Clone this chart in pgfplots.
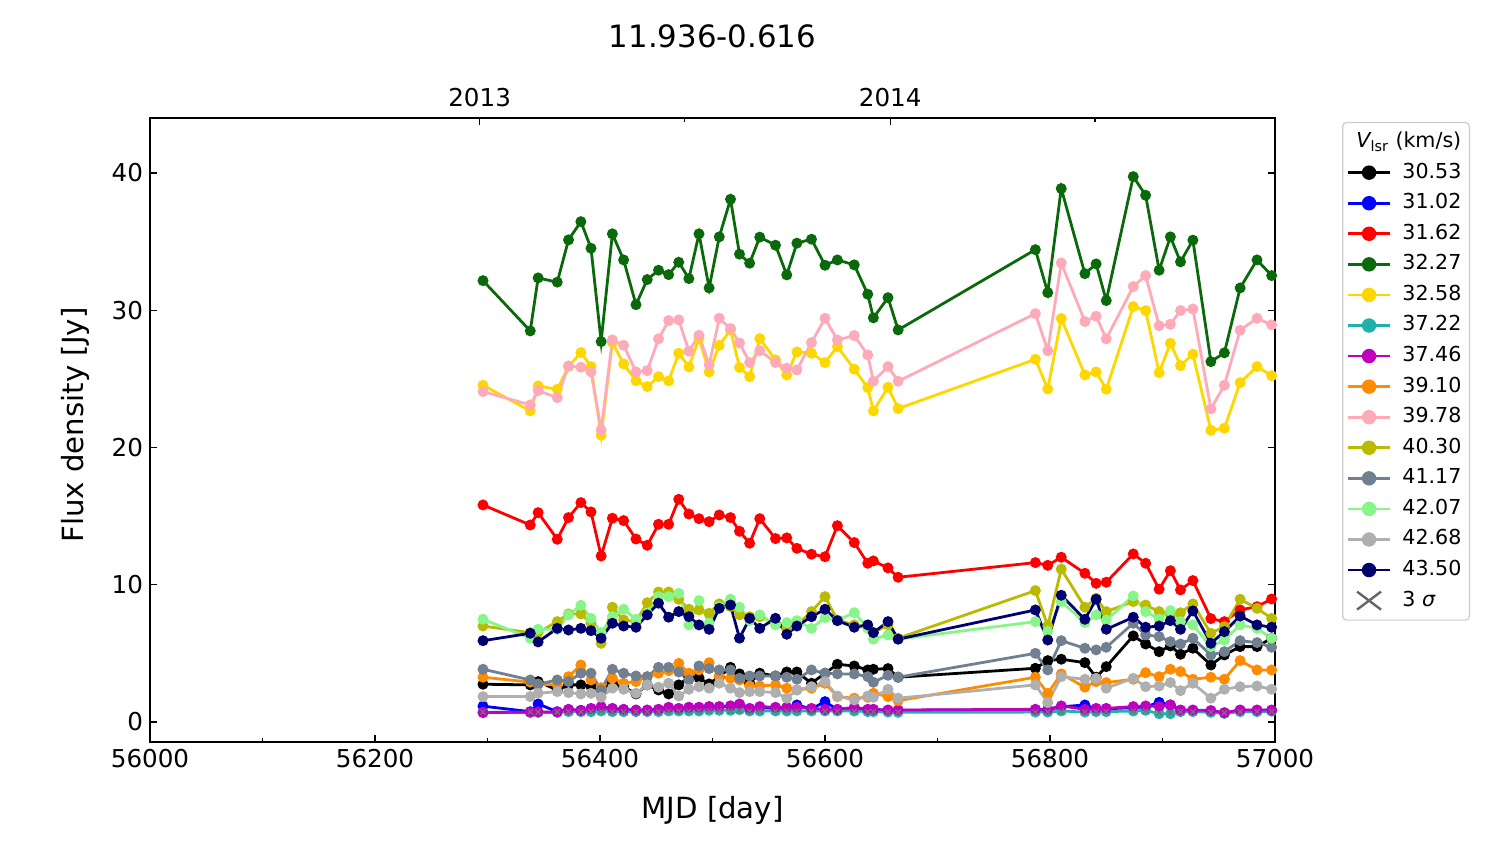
\documentclass[border=0pt]{standalone}
\usepackage{fontspec}
\setmainfont{DejaVu Sans}
\usepackage{pgfplots}
\pgfplotsset{compat=1.18}
\usepackage{pgfplotstable}

\definecolor{cA}{RGB}{0,0,0}
\definecolor{cB}{RGB}{0,0,255}
\definecolor{cC}{RGB}{255,0,0}
\definecolor{cD}{RGB}{10,105,10}
\definecolor{cE}{RGB}{255,215,0}
\definecolor{cF}{RGB}{32,178,170}
\definecolor{cG}{RGB}{191,0,191}
\definecolor{cH}{RGB}{255,140,0}
\definecolor{cI}{RGB}{255,170,185}
\definecolor{cJ}{RGB}{186,186,0}
\definecolor{cK}{RGB}{112,128,144}
\definecolor{cL}{RGB}{136,245,136}
\definecolor{cM}{RGB}{175,175,175}
\definecolor{cN}{RGB}{0,0,110}
\definecolor{legframe}{RGB}{204,204,204}

% MJD and flux density (Jy) of each maser feature
\pgfplotstableread{
mjd   a     b     c     d     e     f     g     h     i     j     k     l     m     n     s
56296 2.75  1.15  15.81 32.15 24.53 0.70  0.68  3.26  24.07 6.99  3.84  7.48  1.85  5.92  0.72
56338 2.70  0.75  14.35 28.49 22.66 0.70  0.72  2.90  23.10 6.50  3.06  6.10  1.85  6.46  0.72
56345 2.94  1.31  15.25 32.35 24.48 0.70  0.73  2.75  24.14 6.51  2.75  6.75  2.09  5.83  0.72
56362 2.33  0.75  13.31 32.04 24.24 0.70  0.73  2.70  23.63 7.31  3.06  6.75  2.21  6.82  0.72
56372 2.70  0.90  14.89 35.12 25.89 0.75  0.92  3.30  25.94 7.87  2.94  7.80  2.14  6.70  0.74
56383 2.70  0.85  15.98 36.45 26.91 0.75  0.83  4.15  25.84 7.87  3.55  8.50  2.04  6.82  0.74
56392 2.57  0.95  15.30 34.51 25.89 0.75  0.99  3.06  25.50 7.19  3.55  7.55  2.09  6.65  0.74
56401 2.33  1.05  12.09 27.71 20.89 0.80  1.12  2.50  21.27 5.73  2.33  6.51  1.80  6.10  0.78
56411 2.82  0.95  14.84 35.56 27.64 0.75  0.99  3.18  27.83 8.36  3.84  7.67  2.46  7.19  0.74
56421 2.57  0.90  14.67 33.66 26.08 0.75  0.92  2.82  27.44 7.43  3.55  8.21  2.38  6.99  0.74
56432 2.04  0.85  13.33 30.40 24.87 0.75  0.87  2.94  25.50 7.31  3.35  7.48  2.09  6.90  0.74
56442 2.70  0.85  12.87 32.23 24.43 0.75  0.87  3.30  25.60 8.69  3.30  7.92  2.70  7.80  0.74
56452 2.33  0.90  14.40 32.91 25.16 0.75  0.92  3.55  27.91 9.47  3.98  9.13  2.53  8.65  0.74
56461 2.04  1.00  14.40 32.59 24.85 0.80  1.07  3.74  29.24 9.47  3.98  9.13  2.82  7.63  0.78
56470 2.70  0.95  16.22 33.49 26.86 0.80  0.99  4.27  29.29 8.94  3.64  9.37  1.89  8.04  0.78
56479 3.26  1.05  15.15 32.30 25.87 0.80  1.07  3.55  27.01 8.21  3.06  7.07  2.38  7.67  0.78
56488 3.21  1.05  14.81 35.56 27.96 0.80  1.07  3.79  28.17 8.16  4.08  8.84  2.57  7.07  0.78
56497 2.77  1.10  14.59 31.62 25.50 0.85  1.12  4.32  26.01 7.92  3.89  7.19  2.46  6.75  0.80
56506 3.30  1.10  15.08 35.34 27.44 0.85  1.12  3.30  29.41 8.60  3.79  8.40  2.82  8.28  0.80
56516 3.98  1.15  14.89 38.08 28.56 0.85  1.17  3.18  28.66 8.40  3.79  8.94  2.46  8.52  0.80
56524 3.50  1.25  13.89 34.08 25.82 0.90  1.31  3.06  27.61 7.80  3.18  8.36  2.14  6.10  0.84
56533 2.82  0.95  13.02 33.42 25.16 0.80  0.99  2.62  26.18 7.67  3.35  7.40  2.21  7.55  0.78
56542 3.55  1.05  14.81 35.32 27.93 0.80  1.12  2.62  27.05 7.67  3.35  7.80  2.21  6.82  0.78
56556 3.35  1.00  13.36 34.73 26.38 0.80  1.07  2.70  26.18 7.19  3.35  7.07  2.14  7.55  0.78
56566 3.64  1.00  13.41 32.57 25.28 0.80  1.07  2.46  25.77 6.82  3.26  7.24  1.73  6.39  0.78
56575 3.64  1.24  12.65 34.88 26.96 0.80  1.07  2.33  25.65 7.07  3.11  7.38  2.33  6.99  0.78
56588 2.82  0.95  12.22 35.17 26.86 0.80  0.99  2.46  27.64 8.04  3.79  6.82  2.57  7.67  0.78
56600 3.55  1.48  12.04 33.27 26.18 0.80  0.92  2.82  29.41 9.13  3.55  7.60  2.94  8.21  0.78
56611 4.20  0.90  14.30 33.66 27.35 0.80  0.92  1.85  27.83 7.43  3.50  7.40  1.89  7.38  0.78
56626 4.08  1.00  13.07 33.30 25.70 0.80  1.07  1.73  28.15 7.07  3.50  7.96  1.60  6.90  0.78
56638 3.79  0.90  11.56 31.16 24.36 0.75  0.92  1.80  26.74 6.90  3.30  6.82  1.89  7.07  0.74
56643 3.84  0.90  11.73 29.44 22.66 0.75  0.92  2.09  24.82 6.50  2.89  6.03  1.80  6.51  0.74
56656 3.89  0.85  11.22 30.91 24.38 0.72  0.87  1.85  25.89 7.07  3.40  6.34  2.38  7.31  0.72
56665 3.26  0.85  10.54 28.56 22.83 0.70  0.87  1.55  24.82 6.10  3.26  6.03  1.73  6.03  0.72
56787 3.91  0.90  11.61 34.41 26.42 0.72  0.92  3.26  29.75 9.57  5.00  7.31  2.70  8.16  0.72
56798 4.47  0.90  11.41 31.28 24.26 0.72  0.92  2.09  27.05 7.00  3.79  6.60  1.41  5.97  0.72
56810 4.57  1.10  12.00 38.86 29.39 0.80  1.17  3.50  33.44 11.13 5.92  8.77  3.30  9.23  0.78
56831 4.32  1.24  10.83 32.66 25.28 0.72  0.92  2.53  29.17 8.36  5.37  7.24  3.11  7.48  0.72
56841 3.26  0.95  10.10 33.37 25.50 0.75  0.99  2.94  29.56 9.01  5.25  7.80  3.18  8.94  0.74
56850 4.03  0.95  10.18 30.70 24.24 0.75  0.99  2.87  27.91 8.04  5.44  7.43  2.46  6.75  0.74
56874 6.27  1.05  12.24 39.73 30.26 0.80  1.12  3.11  31.72 8.77  7.19  9.18  3.18  7.63  0.78
56885 5.68  1.10  11.56 38.37 29.97 0.85  1.17  3.59  32.52 8.52  6.34  8.04  2.57  6.90  0.80
56897 5.12  1.43  9.67  32.91 25.45 0.60  1.12  3.30  28.87 8.04  6.22  7.50  2.62  6.99  0.66
56907 5.54  1.24  11.02 35.34 27.59 0.60  1.24  3.84  28.97 7.90  5.85  8.11  2.87  7.38  0.66
56916 4.93  0.85  9.62  33.52 25.96 0.75  0.87  3.67  29.97 7.96  5.68  7.31  2.28  6.75  0.74
56927 5.37  0.85  10.30 35.10 26.79 0.75  0.87  3.11  30.09 8.60  6.10  7.07  2.82  8.09  0.74
56943 4.15  0.80  7.53  26.25 21.25 0.70  0.83  3.26  22.81 6.46  4.88  5.49  1.73  5.73  0.72
56955 4.88  0.65  7.31  26.89 21.40 0.62  0.68  3.11  24.53 6.95  5.12  5.97  2.38  6.58  0.66
56969 5.49  0.85  8.16  31.62 24.72 0.75  0.87  4.47  28.54 8.94  5.92  7.07  2.57  7.72  0.74
56984 5.49  0.85  8.40  33.66 25.89 0.75  0.87  3.79  29.41 8.28  5.78  6.82  2.62  7.07  0.74
56997 6.10  0.85  8.96  32.52 25.23 0.78  0.87  3.79  28.93 7.55  5.44  6.10  2.38  6.90  0.76
}\maserdata

\pgfplotsset{
  feat/.style={color=#1, mark=*, mark size=2bp, line width=1.4bp, mark options={solid}},
}

\begin{document}
\begin{tikzpicture}
\path[use as bounding box] (-75bp,-51bp) rectangle (675bp,371bp);
\begin{axis}[
    name=main,
    scale only axis,
    width=562.5bp, height=312bp,
    xmin=56000, xmax=57000,
    ymin=-1.46, ymax=44.0,
    xtick={56000,56200,...,57000},
    minor xtick={56100,56300,...,56900},
    ytick={0,10,20,30,40},
    xtick pos=bottom,
    ytick pos=both,
    tick align=inside,
    major tick length=3.5bp,
    minor tick length=2bp,
    tick style={line width=0.6bp, black},
    axis line style={line width=0.8bp},
    scaled ticks=false,
    /pgf/number format/set thousands separator={},
    /pgf/number format/assume math mode=true,
    ticklabel style={font=\fontsize{12.3bp}{14bp}\selectfont},
    xlabel={MJD [day]},
    ylabel={Flux density [Jy]},
    label style={font=\fontsize{14.6bp}{17bp}\selectfont},
    xlabel style={at={(axis description cs:0.5,-0.1218)}, anchor=base},
    ylabel style={at={(axis description cs:-0.0667,0.508)}, anchor=center},
    title={11.936-0.616},
    title style={at={(axis description cs:0.5,1.0946)}, anchor=base,
                 font=\fontsize{15.4bp}{18bp}\selectfont},
    legend cell align=left,
    legend style={at={(axis description cs:1.0596,0.9936)}, anchor=north west,
                  draw=legframe, rounded corners=2bp, line width=0.6bp,
                  font=\fontsize{10.3bp}{12bp}\selectfont,
                  nodes={text height=7.5bp, text depth=2bp},
                  row sep=1.8bp, column sep=3.5bp, inner xsep=2bp, inner ysep=3bp},
    legend image code/.code={
      \draw[mark repeat=2,mark phase=2,#1,mark size=2.9bp]
        plot coordinates {(0bp,0bp) (10.5bp,0bp) (21bp,0bp)};
    },
]
\addlegendimage{empty legend}
\addlegendentry{\hspace*{-23bp}{\itshape V}\textsubscript{lsr} (km/s)}
\addplot[feat=cA] table[x=mjd,y=a] {\maserdata}; \addlegendentry{30.53}
\addplot[feat=cB] table[x=mjd,y=b] {\maserdata}; \addlegendentry{31.02}
\addplot[feat=cC] table[x=mjd,y=c] {\maserdata}; \addlegendentry{31.62}
\addplot[feat=cD] table[x=mjd,y=d] {\maserdata}; \addlegendentry{32.27}
\addplot[feat=cE] table[x=mjd,y=e] {\maserdata}; \addlegendentry{32.58}
\addplot[feat=cF] table[x=mjd,y=f] {\maserdata}; \addlegendentry{37.22}
\addplot[feat=cG] table[x=mjd,y=g] {\maserdata}; \addlegendentry{37.46}
\addplot[feat=cH] table[x=mjd,y=h] {\maserdata}; \addlegendentry{39.10}
\addplot[feat=cI] table[x=mjd,y=i] {\maserdata}; \addlegendentry{39.78}
\addplot[feat=cJ] table[x=mjd,y=j] {\maserdata}; \addlegendentry{40.30}
\addplot[feat=cK] table[x=mjd,y=k] {\maserdata}; \addlegendentry{41.17}
\addplot[feat=cL] table[x=mjd,y=l] {\maserdata}; \addlegendentry{42.07}
\addplot[feat=cM] table[x=mjd,y=m] {\maserdata}; \addlegendentry{42.68}
\addplot[feat=cN] table[x=mjd,y=n] {\maserdata}; \addlegendentry{43.50}
\addplot[only marks, mark=x, mark size=1.8bp, color=black!55, line width=0.6bp,
  legend image code/.code={
    \draw[black!60, line width=1.2bp] (4.5bp,-4.5bp) -- (16.5bp,4.5bp)
      (4.5bp,4.5bp) -- (16.5bp,-4.5bp);}]
  table[x=mjd,y=s] {\maserdata};
\addlegendentry{3 {\itshape σ}}
\end{axis}
\begin{axis}[
    at={(main.south west)}, anchor=south west,
    scale only axis,
    width=562.5bp, height=312bp,
    xmin=56000, xmax=57000,
    ymin=-1.46, ymax=44.0,
    axis x line*=top,
    axis y line=none,
    xtick={56293,56658},
    xticklabels={2013,2014},
    minor xtick={56475,56840},
    scaled ticks=false,
    tick align=inside,
    major tick length=3.5bp,
    minor tick length=2bp,
    tick style={line width=0.6bp, black},
    axis line style={line width=0.8bp},
    xticklabel style={font=\fontsize{12.3bp}{14bp}\selectfont, yshift=2bp},
]
\addplot[draw=none] coordinates {(56000,0)};
\end{axis}
\end{tikzpicture}
\end{document}
